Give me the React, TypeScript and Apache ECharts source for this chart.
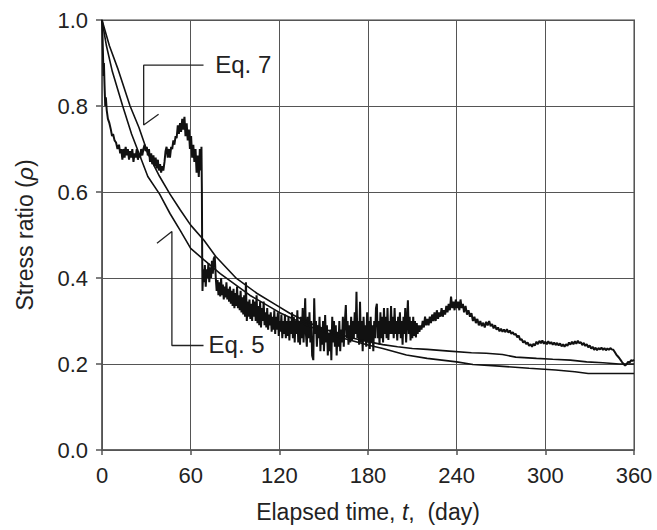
import React, { useEffect, useRef } from "react";
import * as echarts from "echarts";

// Axis ticks
const xTicks = [0, 60, 120, 180, 240, 300, 360];
const yTicks = [0, 0.2, 0.4, 0.6, 0.8, 1.0];

// Eq. 7 model curve (upper early on)
const eq7T = [0, 5, 11, 19, 25, 31, 39, 46, 53, 60, 69, 77, 91, 105, 118, 127, 140, 150, 160, 170, 180, 190, 200, 210, 220, 235, 250, 260, 271, 280, 294, 305, 317, 328, 339, 350, 360];
const eq7V = [1.0, 0.94, 0.884, 0.8, 0.75, 0.69, 0.636, 0.595, 0.558, 0.523, 0.488, 0.45, 0.399, 0.364, 0.337, 0.318, 0.296, 0.282, 0.27, 0.26, 0.252, 0.245, 0.24, 0.236, 0.234, 0.23, 0.226, 0.225, 0.222, 0.216, 0.213, 0.211, 0.209, 0.205, 0.203, 0.2, 0.2];

// Eq. 5 model curve (lower early on)
const eq5T = [0, 3, 7, 14, 20, 25, 31, 39, 46, 53, 60, 69, 80, 90, 100, 120, 140, 160, 180, 190, 206, 220, 240, 251, 269, 289, 307, 320, 329, 345, 360];
const eq5V = [1.0, 0.94, 0.88, 0.8, 0.735, 0.69, 0.636, 0.595, 0.55, 0.51, 0.469, 0.442, 0.41, 0.385, 0.36, 0.32, 0.288, 0.263, 0.244, 0.236, 0.221, 0.213, 0.205, 0.199, 0.195, 0.19, 0.186, 0.182, 0.178, 0.178, 0.178];

// Measured stress ratio [day, rho]
const measured: [number, number][] = [
  [0, 1.0], [0.3, 0.97], [0.6, 0.93], [1.0, 0.87], [1.3, 0.9], [1.7, 0.85], [2.2, 0.8], [2.6, 0.82], [3.2, 0.79], [4, 0.77], [5, 0.76], [6, 0.745], [6.8, 0.73], [7.5, 0.735], [8.5, 0.72], [9.5, 0.715], [10.5, 0.7], [11.5, 0.71], [12.3, 0.69], [13, 0.7], [13.8, 0.675], [14.5, 0.7], [15.3, 0.68], [16, 0.705], [16.8, 0.685], [17.5, 0.7], [18.3, 0.675], [19, 0.695], [19.8, 0.68], [20.5, 0.7], [21.3, 0.67], [22, 0.69], [22.8, 0.68], [23.5, 0.7], [24.3, 0.675], [25, 0.69], [25.8, 0.68], [26.5, 0.7], [27.3, 0.685], [28, 0.7], [28.8, 0.71], [29.5, 0.695], [30.3, 0.705], [31, 0.685], [31.8, 0.7], [32.5, 0.67], [33.3, 0.69], [34, 0.665], [34.8, 0.685], [35.5, 0.66], [36.3, 0.68], [37, 0.655], [37.8, 0.675], [38.5, 0.65], [39.3, 0.665], [40, 0.645], [40.8, 0.66], [41.5, 0.65], [42.3, 0.67], [43, 0.695], [43.7, 0.705], [44.5, 0.68], [45.3, 0.7], [46, 0.68], [46.8, 0.705], [47.5, 0.7], [48.3, 0.72], [49, 0.71], [49.8, 0.73], [50.5, 0.725], [51.3, 0.755], [52, 0.735], [52.8, 0.76], [53.5, 0.74], [54.3, 0.77], [55, 0.745], [55.8, 0.775], [56.5, 0.73], [57.3, 0.76], [58, 0.72], [58.8, 0.745], [59.5, 0.7], [60.3, 0.73], [61, 0.68], [61.8, 0.71], [62.5, 0.67], [63.3, 0.7], [64, 0.645], [64.8, 0.685], [65.5, 0.635], [66.2, 0.7], [66.8, 0.65], [67.3, 0.705], [67.6, 0.6], [67.8, 0.45], [68, 0.37],
  [68.5, 0.42], [69, 0.39], [69.6, 0.43], [70.2, 0.38], [70.8, 0.42], [71.4, 0.4], [72, 0.435], [72.6, 0.39], [73.2, 0.425], [73.8, 0.4], [74.4, 0.44], [75, 0.41], [75.6, 0.445], [76.3, 0.45], [77, 0.4], [77.6, 0.37], [78.2, 0.395], [78.8, 0.36], [79.4, 0.39], [80, 0.357], [80.6, 0.4], [81.2, 0.36], [81.8, 0.385], [82.4, 0.35], [83, 0.38], [83.6, 0.355], [84.2, 0.39], [84.8, 0.35], [85.4, 0.375], [86, 0.345], [86.6, 0.38], [87.2, 0.34], [87.8, 0.37], [88.4, 0.335], [89, 0.375], [89.6, 0.33], [90.2, 0.365], [90.8, 0.335], [91.4, 0.38], [92, 0.33], [92.6, 0.36], [93.2, 0.325], [93.8, 0.37], [94.4, 0.32], [95, 0.355], [95.6, 0.315], [96.2, 0.36], [96.8, 0.31], [97.4, 0.39], [98, 0.3], [98.6, 0.345], [99.2, 0.31], [99.8, 0.35], [100.4, 0.305], [101, 0.34], [101.6, 0.3], [102.2, 0.35], [102.8, 0.31], [103.4, 0.345], [104, 0.3], [104.6, 0.36], [105.2, 0.295], [105.8, 0.335], [106.4, 0.29], [107, 0.345], [107.6, 0.285], [108.2, 0.33], [108.8, 0.3], [109.4, 0.345], [110, 0.29], [110.6, 0.32], [111.2, 0.285], [111.8, 0.33], [112.4, 0.28], [113, 0.315], [113.6, 0.29], [114.2, 0.32], [114.8, 0.275], [115.4, 0.31], [116, 0.28], [116.6, 0.325], [117.2, 0.27], [117.8, 0.31], [118.4, 0.28], [119, 0.32], [119.6, 0.265], [120.2, 0.3], [120.8, 0.275], [121.4, 0.315], [122, 0.26], [122.6, 0.3], [123.2, 0.27], [123.8, 0.315], [124.4, 0.26], [125, 0.3], [125.6, 0.265], [126.2, 0.31], [126.8, 0.255], [127.4, 0.3], [128, 0.27], [128.6, 0.32], [129.2, 0.26], [129.8, 0.31], [130.4, 0.25], [131, 0.3], [131.6, 0.27], [132.2, 0.325], [132.8, 0.25], [133.4, 0.3], [134, 0.245], [134.6, 0.31], [135.2, 0.26], [135.8, 0.33], [136.4, 0.25], [137, 0.3], [137.5, 0.353], [138, 0.27], [138.6, 0.24], [139.2, 0.31], [139.8, 0.26], [140.4, 0.32],
  [141, 0.25], [141.6, 0.3], [142.2, 0.22], [143, 0.209], [143.6, 0.353], [144.2, 0.27], [144.8, 0.3], [145.4, 0.24], [146, 0.29], [146.6, 0.26], [147.2, 0.31], [147.8, 0.23], [148.4, 0.285], [149, 0.245], [149.6, 0.3], [150.2, 0.23], [151, 0.314], [151.6, 0.25], [152.2, 0.29], [152.8, 0.22], [153.4, 0.27], [154, 0.23], [154.6, 0.28], [155.2, 0.209], [155.8, 0.31], [156.4, 0.25], [157, 0.3], [157.6, 0.24], [158.2, 0.29], [158.8, 0.22], [159.4, 0.275], [160, 0.24], [160.6, 0.3], [161.2, 0.23], [161.8, 0.28], [162.4, 0.25], [163, 0.31], [163.6, 0.24], [164.2, 0.29], [165, 0.337], [165.6, 0.26], [166.2, 0.3], [166.8, 0.245], [167.4, 0.29], [168, 0.25], [168.6, 0.31], [169.2, 0.255], [169.8, 0.3], [170.4, 0.26], [171, 0.32], [171.6, 0.27], [172.2, 0.368], [172.8, 0.26], [173.4, 0.3], [174, 0.245], [174.6, 0.345], [175.2, 0.25], [175.8, 0.3], [176.4, 0.23], [177, 0.31], [177.6, 0.255], [178.2, 0.29], [178.8, 0.24], [179.4, 0.32], [180, 0.25], [180.6, 0.3], [181.2, 0.235], [181.8, 0.31], [182.4, 0.25], [183, 0.29], [183.6, 0.23], [184.2, 0.3], [184.8, 0.26], [185.4, 0.33], [186, 0.34], [186.6, 0.26], [187.2, 0.3], [187.8, 0.245], [188.4, 0.32], [189, 0.26], [189.6, 0.31], [190.2, 0.25], [190.8, 0.33], [191.4, 0.27], [192, 0.31], [192.6, 0.26], [193.2, 0.33], [193.8, 0.256], [194.4, 0.3], [195, 0.27], [195.6, 0.335], [196.2, 0.27], [196.8, 0.31], [197.4, 0.26], [198, 0.33], [198.6, 0.27], [199.2, 0.3], [199.8, 0.255], [200.4, 0.31], [201, 0.27], [201.6, 0.32], [202.2, 0.26], [202.8, 0.3], [203.4, 0.245], [204, 0.31], [204.6, 0.27], [205.2, 0.33], [205.8, 0.25], [206.4, 0.3], [207, 0.348], [207.6, 0.27], [208.2, 0.31], [208.8, 0.255], [209.4, 0.3], [210, 0.26], [210.6, 0.31], [211.2, 0.265], [211.8, 0.3], [212.4, 0.262], [213, 0.295], [213.6, 0.27], [214.2, 0.29], [214.8, 0.275],
  [215.5, 0.29], [216.2, 0.28], [217, 0.3], [217.8, 0.285], [218.6, 0.31], [219.4, 0.29], [220.2, 0.305], [221, 0.29], [221.8, 0.31], [222.6, 0.295], [223.4, 0.315], [224.2, 0.3], [225, 0.32], [225.8, 0.3], [226.6, 0.325], [227.4, 0.305], [228.2, 0.32], [229, 0.31], [229.8, 0.33], [230.6, 0.31], [231.4, 0.325], [232.2, 0.315], [233, 0.335], [233.8, 0.32], [234.6, 0.34], [235.4, 0.325], [236.2, 0.357], [237, 0.33], [237.8, 0.345], [238.6, 0.325], [239.4, 0.35], [240.2, 0.33], [241, 0.345], [241.8, 0.325], [242.6, 0.35], [243.4, 0.33], [244.2, 0.34], [245, 0.32], [246, 0.335], [247, 0.315], [248, 0.325], [249, 0.31], [250, 0.318],
  [251, 0.3], [252, 0.31], [253, 0.295], [254, 0.305], [255, 0.29], [256, 0.3], [257, 0.288], [258, 0.296], [259, 0.285], [260, 0.298], [261, 0.29], [262, 0.3], [263, 0.288], [264, 0.293], [265, 0.283], [266, 0.29], [267, 0.28], [268, 0.285], [269, 0.276], [270, 0.282], [271, 0.275], [272, 0.28], [273, 0.274], [274, 0.281], [275, 0.273], [276, 0.278], [277, 0.27], [278, 0.274], [279, 0.268], [280, 0.27], [281, 0.262], [282, 0.266], [283, 0.256], [284, 0.258], [285, 0.25], [286, 0.254], [287, 0.246], [288, 0.25], [289, 0.242], [290, 0.246], [291, 0.24], [292, 0.247], [293, 0.243], [294, 0.252], [295, 0.246], [296, 0.254], [297, 0.248], [298, 0.255], [299, 0.247], [300, 0.252], [301, 0.246], [302, 0.253], [303, 0.247], [304, 0.251], [305, 0.245], [306, 0.25], [307, 0.244], [308, 0.249], [309, 0.243], [310, 0.248], [311, 0.241], [312, 0.246], [313, 0.24], [314, 0.246], [315, 0.242], [316, 0.25], [317, 0.245], [318, 0.252], [319, 0.246], [320, 0.253], [321, 0.247], [322, 0.254], [323, 0.248], [324, 0.251], [325, 0.244], [326, 0.249], [327, 0.242], [328, 0.246], [329, 0.239], [330, 0.243], [331, 0.236], [332, 0.24], [333, 0.233], [334, 0.238], [335, 0.232], [336, 0.237], [337, 0.234], [338, 0.238], [339, 0.233], [340, 0.237], [341, 0.232], [342, 0.236], [343, 0.233], [344, 0.237], [345, 0.234], [346, 0.233], [347, 0.228], [348, 0.222], [349, 0.218], [350, 0.214], [351, 0.209], [352, 0.204], [353, 0.2], [354, 0.196], [355, 0.2], [356, 0.205], [357, 0.203], [358, 0.209], [359, 0.207], [360, 0.21],
];

// Annotation leader lines (data coordinates): label end -> corner -> tip -> barb
const eq7Leader: [number, number][] = [[68.7, 0.895], [28.2, 0.895], [28.2, 0.756], [38.3, 0.781]];
const eq5Leader: [number, number][] = [[68.7, 0.243], [47.3, 0.243], [47.3, 0.508], [37.2, 0.481]];
const eq7LabelAt: [number, number] = [76.6, 0.897];
const eq5LabelAt: [number, number] = [72.1, 0.245];

const FONT = "'Liberation Sans', Arial, sans-serif";

export default function App() {
  const ref = useRef<HTMLDivElement>(null);
  useEffect(() => {
    if (!ref.current) return;
    const chart = echarts.init(ref.current, null, { renderer: "svg" });
    const lineSeries = (name: string, data: [number, number][], width: number, color: string) => ({
      name,
      type: "line",
      data,
      showSymbol: false,
      symbol: "none",
      smooth: false,
      silent: true,
      lineStyle: { color, width },
      z: 3,
    });
    chart.setOption({
      animation: false,
      backgroundColor: "#fff",
      textStyle: { fontFamily: FONT },
      grid: { left: 102, right: 23, top: 20, bottom: 80, show: true, borderColor: "#a0a0a0", borderWidth: 2, backgroundColor: "transparent" },
      xAxis: {
        type: "value",
        min: xTicks[0],
        max: xTicks[xTicks.length - 1],
        interval: 60,
        name: "Elapsed time, {i|t},  (day)",
        nameLocation: "middle",
        nameGap: 50,
        nameTextStyle: { fontSize: 23, color: "#222", fontFamily: FONT, rich: { i: { fontStyle: "italic", fontSize: 23, color: "#222", fontFamily: FONT } } },
        axisLine: { show: true, lineStyle: { color: "#555", width: 1.5 } },
        axisTick: { show: true, inside: false, length: 5, lineStyle: { color: "#555", width: 1.5 } },
        axisLabel: { fontSize: 22, color: "#222", margin: 14, fontFamily: FONT },
        splitLine: { show: true, lineStyle: { color: "#555", width: 1 } },
      },
      yAxis: {
        type: "value",
        min: yTicks[0],
        max: yTicks[yTicks.length - 1],
        interval: 0.2,
        name: "Stress ratio ({i|ρ})",
        nameLocation: "middle",
        nameGap: 66,
        nameRotate: 90,
        nameTextStyle: { fontSize: 23, color: "#222", fontFamily: FONT, rich: { i: { fontStyle: "italic", fontSize: 23, color: "#222", fontFamily: FONT } } },
        axisLine: { show: true, lineStyle: { color: "#555", width: 1.5 } },
        axisTick: { show: true, inside: false, length: 6, lineStyle: { color: "#555", width: 1.5 } },
        axisLabel: { fontSize: 22, color: "#222", margin: 14, fontFamily: FONT, formatter: (v: number) => v.toFixed(1) },
        splitLine: { show: true, lineStyle: { color: "#555", width: 1 } },
      },
      series: [
        lineSeries("Measured", measured, 2, "#111"),
        lineSeries("Eq. 5", eq5T.map((t, i) => [t, eq5V[i]] as [number, number]), 1.6, "#111"),
        lineSeries("Eq. 7", eq7T.map((t, i) => [t, eq7V[i]] as [number, number]), 1.6, "#111"),
        lineSeries("Eq. 7 leader", eq7Leader, 1.3, "#222"),
        lineSeries("Eq. 5 leader", eq5Leader, 1.3, "#222"),
      ],
    });
    const p7 = chart.convertToPixel({ gridIndex: 0 }, eq7LabelAt) as number[];
    const p5 = chart.convertToPixel({ gridIndex: 0 }, eq5LabelAt) as number[];
    chart.setOption({
      graphic: [
        { type: "text", x: p7[0], y: p7[1], style: { text: "Eq. 7", fontSize: 24, fontFamily: FONT, fill: "#222", align: "left", verticalAlign: "middle" }, z: 10 },
        { type: "text", x: p5[0], y: p5[1], style: { text: "Eq. 5", fontSize: 24, fontFamily: FONT, fill: "#222", align: "left", verticalAlign: "middle", backgroundColor: "transparent" }, z: 10 },
      ],
    });
    return () => chart.dispose();
  }, []);
  return <div ref={ref} style={{ width: 657, height: 530, position: "absolute", left: 0, top: 0 }} />;
}
